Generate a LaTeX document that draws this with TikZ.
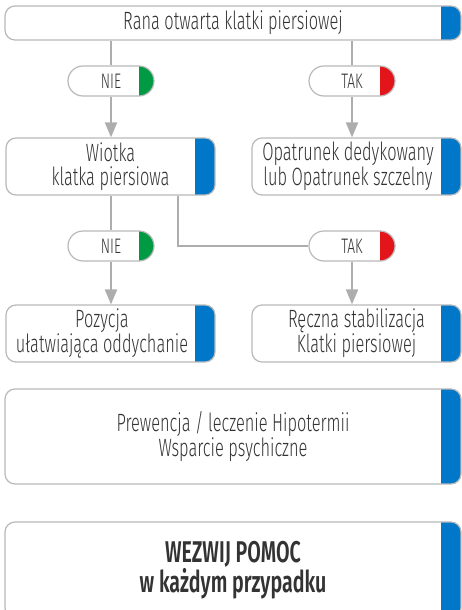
\documentclass[tikz,border=0pt]{standalone}
\usepackage{fontspec}
\setmainfont{Fira Sans}[UprightFont=* Light, BoldFont=* SemiBold, FakeStretch=0.655]
\usetikzlibrary{arrows.meta}
\definecolor{capblue}{HTML}{0077C8}
\definecolor{capgreen}{HTML}{009A44}
\definecolor{capred}{HTML}{E3151A}
\definecolor{linegray}{HTML}{ADADAD}
\definecolor{framegray}{HTML}{B9B9B9}
\definecolor{textgray}{HTML}{333333}
\begin{document}
\begin{tikzpicture}[x=1pt, y=-1pt, every node/.style={text=textgray, align=center, inner sep=0pt},
      cap/.style 2 args={path picture={\fill[#1, sharp corners] ([xshift=-#2]path picture bounding box.north east) rectangle (path picture bounding box.south east);}},
      boxtext/.style={font=\fontsize{25}{23.5}\selectfont},
      box/.style={draw=framegray, fill=white, line width=1.2pt, rounded corners=10pt, minimum height=57pt, boxtext, cap={capblue}{20pt}},
      pill/.style={draw=framegray, fill=white, line width=1.2pt, rounded corners=15pt, minimum width=86pt, minimum height=30pt, font=\fontsize{21}{21}\selectfont},
      nie/.style={pill, cap={capgreen}{15pt}},
      tak/.style={pill, cap={capred}{15pt}},
      conn/.style={draw=linegray, line width=2pt},
      arr/.style={conn, -{Triangle[width=12pt, length=15pt]}}]
    \useasboundingbox (0,0) rectangle (461,610);
    \node[box, minimum width=456pt, minimum height=34pt] (rana) at (233,23) {Rana otwarta klatki piersiowej};
    \node[nie] (nie1) at (111,81) {NIE};
    \node[tak] (tak1) at (352,81) {TAK};
    \node[box, minimum width=209pt] (wiotka) at (110.5,166.5) {Wiotka\\klatka piersiowa};
    \node[box, minimum width=209pt, label={[boxtext, xshift=-8.5pt]center:Opatrunek dedykowany\\lub Opatrunek szczelny}] (opatrunek) at (356.5,166.5) {};
    \node[nie] (nie2) at (111,246) {NIE};
    \node[tak] (tak2) at (352,246) {TAK};
    \node[box, minimum width=209pt, label={[boxtext, xshift=-8.5pt]center:Pozycja\\ułatwiająca oddychanie}] (pozycja) at (110.5,333.5) {};
    \node[box, minimum width=209pt] (reczna) at (356.5,333.5) {Ręczna stabilizacja\\Klatki piersiowej};
    \node[box, minimum width=456pt, minimum height=95pt] (prewencja) at (233,436.5) {Prewencja / leczenie Hipotermii\\Wsparcie psychiczne};
    \node[box, minimum width=456pt, minimum height=96pt, font=\bfseries\fontsize{30}{28}\selectfont] (wezwij) at (233,570) {WEZWIJ POMOC\\w każdym przypadku};
    % connectors
    \coordinate (bend) at (178,246);
    \draw[conn] (nie1.north |- rana.south) -- (nie1.north);
    \draw[arr] (nie1.south) -- (nie1.south |- wiotka.north);
    \draw[conn] (tak1.north |- rana.south) -- (tak1.north);
    \draw[arr] (tak1.south) -- (tak1.south |- opatrunek.north);
    \draw[conn] (nie2.north |- wiotka.south) -- (nie2.north);
    \draw[arr] (nie2.south) -- (nie2.south |- pozycja.north);
    \draw[conn] (bend |- wiotka.south) -- (bend) -- (tak2.west);
    \draw[arr] (tak2.south) -- (tak2.south |- reczna.north);
\end{tikzpicture}
\end{document}
